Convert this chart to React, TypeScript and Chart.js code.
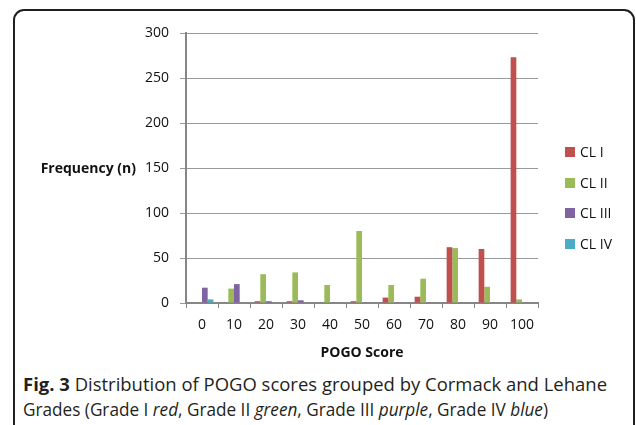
import React, { useEffect, useRef } from 'react';
import { Chart, registerables } from 'chart.js';

Chart.register(...registerables);

const categories = ['0', '10', '20', '30', '40', '50', '60', '70', '80', '90', '100'];
const clI = [0, 0, 2, 2, 0, 2, 6, 7, 62, 60, 273];
const clII = [0, 16, 32, 34, 20, 80, 20, 27, 61, 18, 4];
const clIII = [17, 21, 2, 3, 0, 0, 0, 0, 0, 0, 0];
const clIV = [4, 0, 0, 0, 0, 0, 0, 0, 0, 0, 0];
const seriesNames = ['CL I', 'CL II', 'CL III', 'CL IV'];
const seriesColors = ['#C0504D', '#9BBB59', '#8064A2', '#4BACC6'];
const yMin = 0;
const yMax = 300;
const yStep = 50;
const xTitle = 'POGO Score';
const yTitle = 'Frequency (n)';
const captionBold = 'Fig. 3';
const captionLine1 = ' Distribution of POGO scores grouped by Cormack and Lehane';

const FONT = "'Open Sans', sans-serif";

export default function App() {
  const canvasRef = useRef<HTMLCanvasElement>(null);
  const line1Ref = useRef<HTMLDivElement>(null);
  const line2Ref = useRef<HTMLDivElement>(null);

  useEffect(() => {
    document.body.style.margin = '0';
    const seriesData = [clI, clII, clIII, clIV];
    const chart = new Chart(canvasRef.current as HTMLCanvasElement, {
      type: 'bar',
      data: {
        labels: categories,
        datasets: seriesNames.map((name, i) => ({
          label: name,
          data: seriesData[i],
          backgroundColor: seriesColors[i],
          borderWidth: 0,
          barPercentage: 1,
          categoryPercentage: 0.71,
        })),
      },
      options: {
        responsive: false,
        animation: false,
        layout: { padding: { left: 0, top: 33, right: 98, bottom: 37 } },
        plugins: { legend: { display: false }, tooltip: { enabled: false } },
        scales: {
          x: {
            grid: {
              display: true,
              drawOnChartArea: false,
              drawTicks: true,
              tickLength: 5,
              offset: true,
              color: '#868686',
              lineWidth: 1,
            },
            border: { display: true, color: '#868686', width: 2 },
            ticks: {
              font: { family: FONT, size: 14 },
              color: '#111',
              padding: 9,
              maxRotation: 0,
              autoSkip: false,
            },
            afterFit: (s: any) => {
              s.height = 30;
            },
          },
          y: {
            min: yMin,
            max: yMax,
            ticks: {
              stepSize: yStep,
              font: { family: FONT, size: 14 },
              color: '#111',
              padding: 11,
            },
            grid: { color: '#9a9a9a', lineWidth: 1, tickLength: 6 },
            border: { display: true, color: '#868686', width: 2 },
            afterFit: (s: any) => {
              s.width = 186;
            },
          },
        },
      },
    });

    // fit caption lines horizontally
    const fit = (el: HTMLDivElement | null, target: number) => {
      if (!el) return;
      const w = el.getBoundingClientRect().width;
      if (w > 0) el.style.transform = `scaleX(${target / w})`;
    };
    fit(line1Ref.current, 584);
    fit(line2Ref.current, 525);
    return () => chart.destroy();
  }, []);

  const captionStyle: React.CSSProperties = {
    position: 'absolute',
    left: 23,
    lineHeight: '24px',
    fontFamily: FONT,
    fontSize: 18.5,
    color: '#231f20',
    whiteSpace: 'nowrap',
    transformOrigin: '0 0',
  };

  return (
    <div style={{ position: 'fixed', left: 0, top: 0, width: 636, height: 425, overflow: 'hidden', background: '#fff' }}>
      <div
        style={{
          position: 'absolute',
          left: 13,
          top: 9,
          width: 622,
          height: 600,
          boxSizing: 'border-box',
          border: '2px solid #231f20',
          borderRadius: 11,
        }}
      />
      <canvas ref={canvasRef} width={636} height={370} style={{ position: 'absolute', left: 0, top: 0, display: 'block' }} />
      <div
        style={{
          position: 'absolute',
          right: 636 - 136,
          top: 158,
          lineHeight: '20px',
          font: `bold 14px ${FONT}`,
          color: '#111',
          whiteSpace: 'nowrap',
        }}
      >
        {yTitle}
      </div>
      <div
        style={{
          position: 'absolute',
          left: 186,
          width: 352,
          top: 342,
          lineHeight: '20px',
          textAlign: 'center',
          font: `bold 14px ${FONT}`,
          color: '#111',
          whiteSpace: 'nowrap',
        }}
      >
        {xTitle}
      </div>
      {seriesNames.map((name, i) => (
        <div
          key={name}
          style={{ position: 'absolute', left: 565, top: [152, 183, 212.5, 243.5][i] - 10, height: 20, display: 'flex', alignItems: 'center' }}
        >
          <div style={{ width: 10, height: 10, background: seriesColors[i], marginRight: 5 }} />
          <span style={{ font: `14px ${FONT}`, color: '#111', lineHeight: '20px', whiteSpace: 'nowrap' }}>{name}</span>
        </div>
      ))}
      <div ref={line1Ref} style={{ ...captionStyle, top: 372 }}>
        <b>{captionBold}</b>
        {captionLine1}
      </div>
      <div ref={line2Ref} style={{ ...captionStyle, top: 397 }}>
        Grades (Grade I <i>red</i>, Grade II <i>green</i>, Grade III <i>purple</i>, Grade IV <i>blue</i>)
      </div>
    </div>
  );
}
